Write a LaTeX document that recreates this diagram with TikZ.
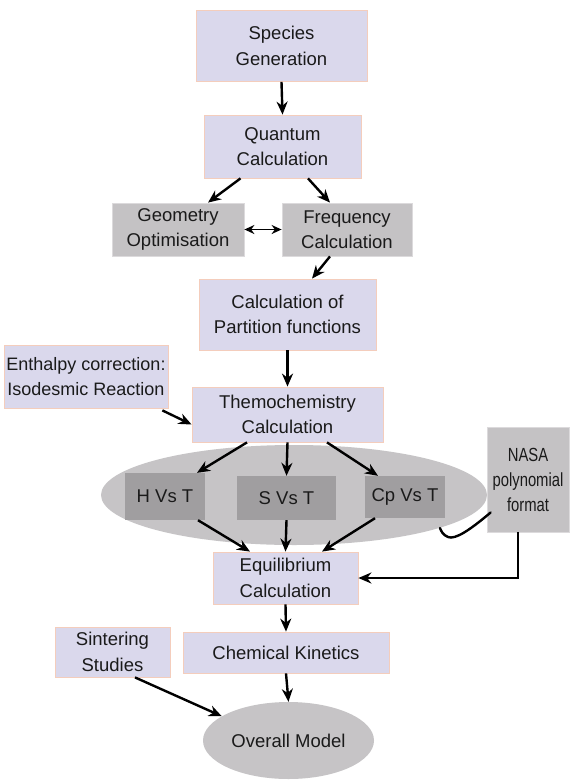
\documentclass[tikz,border=0pt]{standalone}
\usepackage{fontspec}
\setmainfont{Liberation Sans}
\newfontfamily\narrowfont[FakeStretch=0.78]{Liberation Sans}
\usetikzlibrary{arrows.meta,shapes.geometric,calc}
\definecolor{lav}{HTML}{DAD8EC}
\definecolor{peach}{HTML}{F4CDBC}
\definecolor{gbox}{HTML}{C4C2C4}
\definecolor{gborder}{HTML}{DCDADC}
\definecolor{dbox}{HTML}{A09EA0}
\definecolor{ell}{HTML}{C6C4C6}
\definecolor{txt}{HTML}{1A1A1A}
\tikzset{
  x=1pt,y=-1pt,
  every node/.style={font=\fontsize{18.5}{25.5}\selectfont, text=txt, align=center, inner sep=0pt},
  lbox/.style={draw=peach, fill=lav, line width=0.8pt},
  gbx/.style={draw=gborder, fill=gbox, line width=0.8pt},
  dbx/.style={draw=none, fill=dbox},
  arr/.style={draw=black, line width=2.4pt, -{Stealth[length=13pt,width=11pt]}},
  plain/.style={draw=black, line width=2.4pt, line cap=round},
}
\begin{document}
\begin{tikzpicture}
\useasboundingbox (0,0) rectangle (570,780);
\fill[white] (0,0) rectangle (570,780);

\node[lbox, minimum width=171pt, minimum height=71pt] (spec) at (281.5,46) {Species\\Generation};
\node[lbox, minimum width=157pt, minimum height=63pt] (quant) at (282.5,146.5) {Quantum\\Calculation};
\node[gbx, minimum width=132pt, minimum height=53pt] (geo) at (178,229.5) {Geometry\\Optimisation};
\node[gbx, minimum width=130pt, minimum height=53pt] (freq) at (347,229.5) {Frequency\\Calculation};
\node[lbox, minimum width=177pt, minimum height=71pt] (part) at (287.5,314.5) {Calculation of\\Partition functions};
\node[lbox, minimum width=164pt, minimum height=63pt, font=\fontsize{18}{25.5}\selectfont] (enth) at (86,376.5) {Enthalpy correction:\\Isodesmic Reaction};
\node[lbox, minimum width=191pt, minimum height=55pt] (thermo) at (287.5,414.5) {Themochemistry\\Calculation};

\node[ellipse, fill=ell, minimum width=386pt, minimum height=100pt] (ellipse) at (294,495) {};
\node[dbx, minimum width=80pt, minimum height=47pt] (hvt) at (165,496.5) {H Vs T};
\node[dbx, minimum width=99pt, minimum height=44pt] (svt) at (286.5,498) {S Vs T};
\node[dbx, minimum width=80pt, minimum height=42pt] (cpvt) at (405,497) {Cp Vs T};

\node[gbx, minimum width=82pt, minimum height=105pt, font=\narrowfont\fontsize{19}{25}\selectfont] (nasa) at (528,479.5) {NASA\\polynomial\\format};

\node[lbox, minimum width=145pt, minimum height=52pt] (equil) at (285.5,578) {Equilibrium\\Calculation};
\node[lbox, minimum width=206pt, minimum height=41pt] (chem) at (286,652.5) {Chemical Kinetics};
\node[lbox, minimum width=115pt, minimum height=50pt] (sint) at (112.5,652) {Sintering\\Studies};
\node[ellipse, fill=ell, minimum width=171pt, minimum height=77pt] (overall) at (288.5,740.5) {Overall Model};

% connectors
\draw[arr] (spec.south) -- (quant.north);
\draw[arr] ([xshift=-42pt]quant.south) -- ([xshift=30pt]geo.north);
\draw[arr] ([xshift=25.5pt]quant.south) -- ([xshift=-17pt]freq.north);
\draw[draw=black, line width=1.8pt, {Stealth[length=10pt,width=9pt]}-{Stealth[length=10pt,width=9pt]}] (geo.east) -- (freq.west);
\draw[arr] ([xshift=-17pt]freq.south) -- ([xshift=24.5pt]part.north);
\draw[arr] (part.south) -- (thermo.north);
\draw[arr] ([xshift=-6pt,yshift=-2pt]enth.south east) -- ([yshift=-10pt]thermo.west);
\draw[arr] ([xshift=-40.5pt]thermo.south) -- ([xshift=32pt]hvt.north);
\draw[arr] (thermo.south) -- (svt.north);
\draw[arr] ([xshift=39.5pt]thermo.south) -- ([xshift=-27pt]cpvt.north);
\draw[arr] ([xshift=33pt]hvt.south) -- ([xshift=-35.5pt]equil.north);
\draw[arr] (svt.south) -- (equil.north);
\draw[arr] ([xshift=-30pt]cpvt.south) -- ([xshift=36.5pt]equil.north);
\draw[arr] ([xshift=-10pt]nasa.south) |- (equil.east);
\coordinate (hook) at (440,528);
\draw[plain] ([xshift=4pt,yshift=-33pt]nasa.west) .. controls (470,530) and (455,540) .. (448,537) .. controls (443,535) and (441,531) .. (hook);
\draw[arr] (equil.south) -- (chem.north);
\draw[arr] (chem.south) -- (overall.north);
\draw[arr] ([xshift=22.5pt]sint.south) -- (overall.160);
\end{tikzpicture}
\end{document}
